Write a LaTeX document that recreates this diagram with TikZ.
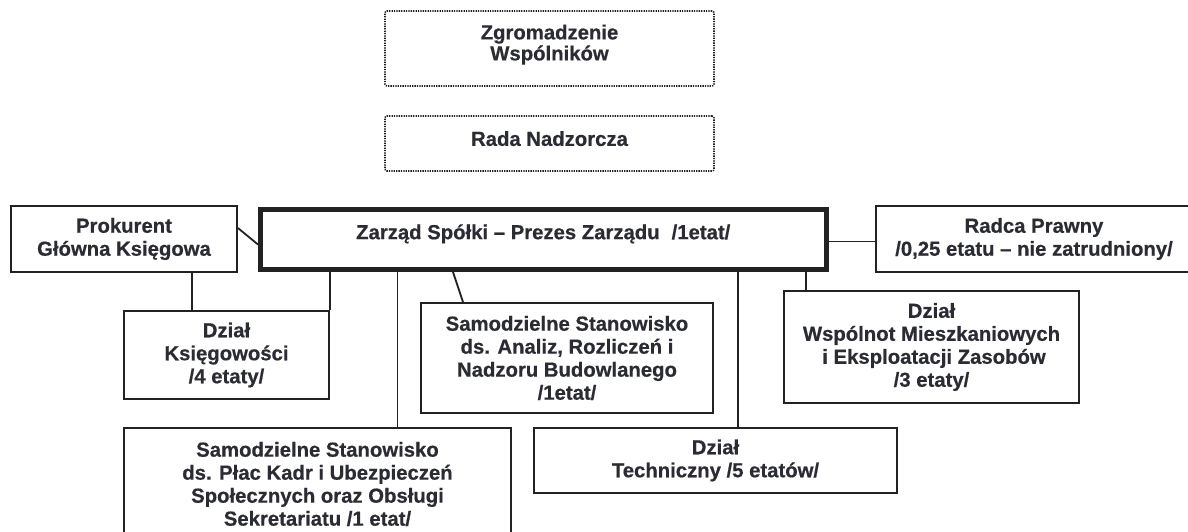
\documentclass[tikz,border=0pt]{standalone}
\usepackage{fontspec}
\setmainfont{Liberation Sans}[BoldFeatures={FakeBold=0.5}]
\definecolor{ink}{HTML}{222222}
\definecolor{txt}{HTML}{2B2B33}
\begin{document}
\begin{tikzpicture}[x=1pt,y=-1pt,
  every node/.style={font=\fontsize{20.3}{23}\selectfont\bfseries, text=txt, align=center, inner sep=0pt},
  box/.style={draw=ink, line width=1.8pt, rectangle},
  dotbox/.style={draw=ink, line width=1.6pt, dash pattern=on 1.3pt off 1.1pt, rounded corners=2pt, rectangle},
  mainbox/.style={draw=ink, line width=5pt, rectangle},
  conn/.style={draw=ink, line width=1.8pt}]
\useasboundingbox (0,0) rectangle (1188,532);
\fill[white] (0,0) rectangle (1188,532);

\node[dotbox, minimum width=329pt, minimum height=75pt] (zw) at (549.5,48.5)
  {Zgromadzenie\\[-2pt]Wspólników\rule[-12pt]{0pt}{12pt}};
\node[dotbox, minimum width=329pt, minimum height=55pt] (rn) at (549.5,143.5)
  {Rada Nadzorcza\rule[-10pt]{0pt}{10pt}};
\node[mainbox, minimum width=565.5pt, minimum height=60pt] (main) at (543.25,239.5)
  {Zarząd Spółki – Prezes Zarządu\hspace{12pt}/1etat/\rule[-15.5pt]{0pt}{15.5pt}};
\node[box, minimum width=226pt, minimum height=66pt] (prok) at (124,239)
  {Prokurent\\Główna Księgowa};
\node[box, minimum width=316pt, minimum height=66pt] (radca) at (1034,239)
  {Radca Prawny\\/0,25 etatu – nie zatrudniony/};
\node[box, minimum width=205pt, minimum height=88pt] (ks) at (226.5,355)
  {Dział\\Księgowości\\/4 etaty/};
\node[box, minimum width=292pt, minimum height=110pt] (an) at (567,358)
  {Samodzielne Stanowisko\\ds. Analiz, Rozliczeń i\\Nadzoru Budowlanego\\/1etat/};
\node[box, minimum width=295pt, minimum height=112pt] (wsp) at (931.5,347)
  {Dział\\Wspólnot Mieszkaniowych\\\kern5pt i Eksploatacji Zasobów\\/3 etaty/};
\node[box, minimum width=387pt, minimum height=112pt] (sp) at (317.5,484)
  {Samodzielne Stanowisko\\ds. Płac Kadr i Ubezpieczeń\\Społecznych oraz Obsługi\\Sekretariatu /1 etat/};
\node[box, minimum width=363pt, minimum height=65pt] (tech) at (715.5,460.5)
  {Dział\\Techniczny /5 etatów/};

\coordinate (k1) at (192,0);
\coordinate (c2) at (397.5,0);
\coordinate (c3) at (453,0);
\coordinate (c4) at (463,0);
\coordinate (c5) at (738,0);
\coordinate (c6) at (806,0);

\draw[conn] ([yshift=11pt]prok.east) -- ([yshift=-5pt]main.west);
\draw[conn] (prok.south -| k1) -- (ks.north -| k1);
\draw[conn] (main.south -| ks.north east) -- (ks.north east);
\draw[conn] (main.south -| c2) -- (sp.north -| c2);
\draw[conn] (main.south -| c3) -- (an.north -| c4);
\draw[conn] (main.south -| c5) -- (tech.north -| c5);
\draw[conn] (main.south -| c6) -- (wsp.north -| c6);
\draw[conn] ([yshift=-2pt]main.east) -- ([yshift=-2pt]main.east -| radca.west);
\end{tikzpicture}
\end{document}
